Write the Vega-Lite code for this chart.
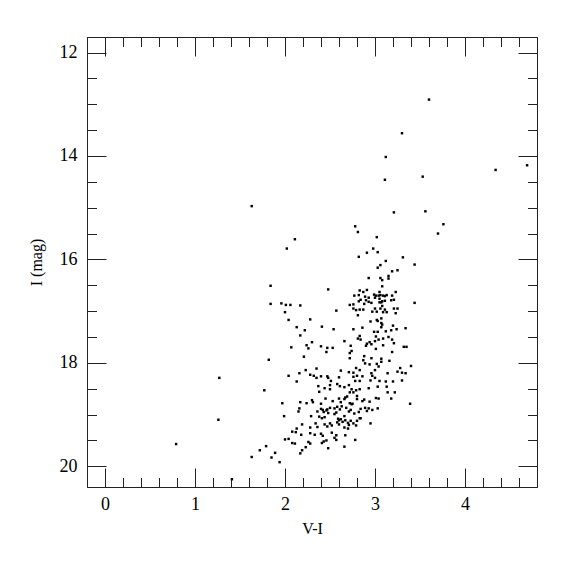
{
  "$schema": "https://vega.github.io/schema/vega-lite/v6.json",
  "autosize": {"type": "none"},
  "width": 450,
  "height": 450,
  "padding": {"left": 87, "top": 37, "right": 38, "bottom": 88},
  "background": "white",
  "config": {
    "view": {"stroke": "#222", "strokeWidth": 1},
    "axis": {
      "domainColor": "#222", "tickColor": "#222", "grid": false,
      "labelFont": "Liberation Serif", "labelFontSize": 18, "labelColor": "black",
      "titleFont": "Liberation Serif", "titleFontSize": 16, "titleFontWeight": "normal", "titleColor": "black",
      "labelFlush": false, "labelOverlap": false
    }
  },
  "datasets": {
    "stars": [
      {"vi":3.60,"I":12.91},{"vi":3.30,"I":13.56},{"vi":3.12,"I":14.02},{"vi":4.69,"I":14.18},{"vi":4.34,"I":14.27},
      {"vi":3.11,"I":14.46},{"vi":3.53,"I":14.40},{"vi":1.63,"I":14.97},{"vi":3.21,"I":15.09},{"vi":3.56,"I":15.07},
      {"vi":3.76,"I":15.32},{"vi":3.70,"I":15.50},{"vi":2.78,"I":15.36},{"vi":2.81,"I":15.47},{"vi":2.11,"I":15.61},
      {"vi":3.02,"I":15.57},{"vi":2.02,"I":15.79},{"vi":2.98,"I":15.79},{"vi":2.91,"I":15.87},{"vi":3.03,"I":15.86},
      {"vi":2.82,"I":15.95},{"vi":3.31,"I":15.96},{"vi":3.12,"I":16.03},{"vi":3.44,"I":16.10},{"vi":3.06,"I":16.11},
      {"vi":3.03,"I":16.16},{"vi":3.25,"I":16.21},{"vi":3.19,"I":16.23},{"vi":3.15,"I":16.32},{"vi":3.15,"I":16.37},
      {"vi":2.93,"I":16.36},{"vi":3.06,"I":16.36},{"vi":3.08,"I":16.40},{"vi":1.84,"I":16.51},{"vi":3.08,"I":16.52},
      {"vi":2.48,"I":16.58},{"vi":2.83,"I":16.60},{"vi":2.91,"I":16.59},{"vi":2.87,"I":16.63},{"vi":3.23,"I":16.63},
      {"vi":3.05,"I":16.63},{"vi":2.77,"I":16.70},{"vi":2.82,"I":16.69},{"vi":2.89,"I":16.72},{"vi":2.99,"I":16.68},
      {"vi":3.01,"I":16.70},{"vi":3.04,"I":16.70},{"vi":3.06,"I":16.69},{"vi":3.09,"I":16.70},{"vi":3.11,"I":16.71},
      {"vi":3.13,"I":16.69},{"vi":3.19,"I":16.70},{"vi":2.93,"I":16.74},{"vi":3.00,"I":16.74},{"vi":3.05,"I":16.76},
      {"vi":2.84,"I":16.78},{"vi":2.90,"I":16.79},{"vi":3.21,"I":16.78},{"vi":2.82,"I":16.81},{"vi":2.93,"I":16.82},
      {"vi":3.08,"I":16.81},{"vi":3.11,"I":16.80},{"vi":3.18,"I":16.79},{"vi":2.88,"I":16.86},{"vi":2.96,"I":16.84},
      {"vi":3.05,"I":16.83},{"vi":3.07,"I":16.83},{"vi":1.84,"I":16.86},{"vi":1.96,"I":16.85},{"vi":2.01,"I":16.88},
      {"vi":2.06,"I":16.88},{"vi":2.17,"I":16.89},{"vi":2.72,"I":16.88},{"vi":2.76,"I":16.87},{"vi":3.44,"I":16.84},
      {"vi":3.08,"I":16.90},{"vi":2.76,"I":16.95},{"vi":2.79,"I":16.98},{"vi":2.83,"I":16.97},{"vi":2.87,"I":16.97},
      {"vi":3.00,"I":16.95},{"vi":3.06,"I":16.95},{"vi":3.11,"I":16.97},{"vi":3.21,"I":16.95},{"vi":3.25,"I":16.95},
      {"vi":2.00,"I":17.02},{"vi":2.57,"I":16.99},{"vi":2.97,"I":17.01},{"vi":3.02,"I":17.01},{"vi":3.09,"I":17.02},
      {"vi":3.13,"I":17.02},{"vi":3.23,"I":17.04},
      {"vi":2.81,"I":17.08},{"vi":2.04,"I":17.17},{"vi":2.28,"I":17.16},{"vi":2.95,"I":17.20},{"vi":3.02,"I":17.17},
      {"vi":3.03,"I":17.19},{"vi":3.07,"I":17.14},{"vi":3.07,"I":17.23},{"vi":2.13,"I":17.31},{"vi":2.41,"I":17.30},
      {"vi":2.22,"I":17.37},{"vi":2.54,"I":17.35},{"vi":2.76,"I":17.35},{"vi":2.86,"I":17.32},{"vi":3.08,"I":17.26},
      {"vi":3.07,"I":17.31},{"vi":3.20,"I":17.28},{"vi":3.18,"I":17.37},{"vi":3.24,"I":17.35},{"vi":3.34,"I":17.33},
      {"vi":2.99,"I":17.40},{"vi":3.03,"I":17.40},{"vi":3.12,"I":17.39},{"vi":2.17,"I":17.47},{"vi":2.83,"I":17.48},
      {"vi":2.81,"I":17.53},{"vi":3.01,"I":17.49},{"vi":3.09,"I":17.53},{"vi":3.15,"I":17.50},{"vi":3.19,"I":17.55},
      {"vi":2.84,"I":17.55},{"vi":2.30,"I":17.60},{"vi":2.66,"I":17.58},{"vi":2.94,"I":17.60},{"vi":2.91,"I":17.63},
      {"vi":2.90,"I":17.67},{"vi":2.96,"I":17.64},{"vi":3.00,"I":17.58},{"vi":3.04,"I":17.55},{"vi":3.21,"I":17.62},
      {"vi":2.24,"I":17.66},{"vi":2.26,"I":17.72},{"vi":2.07,"I":17.70},{"vi":2.40,"I":17.68},{"vi":2.47,"I":17.71},
      {"vi":2.53,"I":17.71},{"vi":2.73,"I":17.67},{"vi":3.09,"I":17.66},{"vi":3.32,"I":17.69},{"vi":3.35,"I":17.69},
      {"vi":2.46,"I":17.79},{"vi":2.74,"I":17.77},{"vi":2.72,"I":17.81},{"vi":3.01,"I":17.73},{"vi":3.19,"I":17.79},
      {"vi":2.21,"I":17.88},{"vi":2.72,"I":17.91},{"vi":2.88,"I":17.87},{"vi":2.87,"I":17.95},{"vi":1.82,"I":17.94},
      {"vi":2.96,"I":17.91},{"vi":3.07,"I":17.92},{"vi":3.07,"I":17.98},{"vi":2.89,"I":18.01},{"vi":2.94,"I":18.03},
      {"vi":3.02,"I":18.02},{"vi":3.16,"I":17.96},{"vi":3.04,"I":18.07},{"vi":2.79,"I":18.10},{"vi":3.28,"I":18.10},
      {"vi":3.40,"I":18.06},{"vi":2.23,"I":18.14},{"vi":2.35,"I":18.11},{"vi":2.62,"I":18.15},{"vi":2.71,"I":18.18},
      {"vi":2.76,"I":18.19},{"vi":2.83,"I":18.14},{"vi":3.00,"I":18.14},{"vi":2.16,"I":18.20},{"vi":2.28,"I":18.23},
      {"vi":2.96,"I":18.20},{"vi":3.14,"I":18.20},{"vi":3.25,"I":18.17},{"vi":3.30,"I":18.19},{"vi":2.04,"I":18.25},
      {"vi":2.32,"I":18.25},{"vi":2.35,"I":18.29},{"vi":2.40,"I":18.26},{"vi":2.47,"I":18.26},{"vi":2.48,"I":18.29},
      {"vi":2.60,"I":18.28},{"vi":2.76,"I":18.27},{"vi":2.80,"I":18.25},{"vi":2.86,"I":18.26},{"vi":2.97,"I":18.25},
      {"vi":3.00,"I":18.29},{"vi":3.34,"I":18.20},{"vi":2.13,"I":18.36},{"vi":2.51,"I":18.35},{"vi":2.78,"I":18.35},
      {"vi":2.83,"I":18.35},{"vi":2.95,"I":18.34},{"vi":3.05,"I":18.35},{"vi":3.12,"I":18.36},{"vi":3.20,"I":18.36},
      {"vi":3.30,"I":18.34},{"vi":2.50,"I":18.43},{"vi":2.58,"I":18.41},{"vi":2.61,"I":18.45},{"vi":2.71,"I":18.43},
      {"vi":2.37,"I":18.45},{"vi":2.44,"I":18.49},{"vi":2.50,"I":18.51},{"vi":2.66,"I":18.47},{"vi":2.74,"I":18.51},
      {"vi":2.79,"I":18.53},{"vi":2.83,"I":18.51},{"vi":2.93,"I":18.49},{"vi":3.03,"I":18.46},{"vi":3.13,"I":18.46},
      {"vi":2.38,"I":18.56},{"vi":1.77,"I":18.53},{"vi":3.14,"I":18.57},{"vi":3.22,"I":18.57},{"vi":2.72,"I":18.57},
      {"vi":2.76,"I":18.57},{"vi":1.27,"I":18.29},
      {"vi":1.97,"I":18.78},{"vi":2.17,"I":18.76},{"vi":2.24,"I":18.78},{"vi":2.30,"I":18.72},{"vi":2.31,"I":18.76},
      {"vi":2.40,"I":18.79},{"vi":2.45,"I":18.69},{"vi":2.53,"I":18.74},{"vi":2.60,"I":18.69},{"vi":2.62,"I":18.76},
      {"vi":2.66,"I":18.70},{"vi":2.69,"I":18.65},{"vi":2.67,"I":18.67},{"vi":2.72,"I":18.78},{"vi":2.75,"I":18.79},
      {"vi":2.80,"I":18.70},{"vi":2.80,"I":18.64},{"vi":2.86,"I":18.74},{"vi":2.88,"I":18.71},{"vi":2.94,"I":18.75},
      {"vi":3.01,"I":18.68},{"vi":3.04,"I":18.69},{"vi":3.18,"I":18.69},{"vi":3.39,"I":18.79},{"vi":1.99,"I":19.03},
      {"vi":2.16,"I":18.88},{"vi":2.15,"I":18.94},{"vi":2.29,"I":19.03},{"vi":2.36,"I":18.94},{"vi":2.40,"I":18.89},
      {"vi":2.42,"I":18.91},{"vi":2.43,"I":18.95},{"vi":2.46,"I":18.92},{"vi":2.48,"I":18.97},{"vi":2.47,"I":18.90},
      {"vi":2.38,"I":19.04},{"vi":2.41,"I":19.07},{"vi":2.44,"I":19.05},{"vi":2.50,"I":18.87},{"vi":2.55,"I":18.88},
      {"vi":2.58,"I":18.85},{"vi":2.61,"I":18.90},{"vi":2.63,"I":18.84},{"vi":2.55,"I":18.99},{"vi":2.57,"I":18.96},
      {"vi":2.68,"I":18.87},{"vi":2.71,"I":18.94},{"vi":2.73,"I":18.91},{"vi":2.74,"I":18.80},{"vi":2.77,"I":18.98},
      {"vi":2.82,"I":18.95},{"vi":2.84,"I":18.89},{"vi":2.89,"I":18.87},{"vi":2.91,"I":18.93},{"vi":2.93,"I":18.88},
      {"vi":2.97,"I":18.91},{"vi":3.03,"I":18.88},{"vi":2.84,"I":19.07},{"vi":2.66,"I":19.03},{"vi":2.34,"I":19.17},
      {"vi":2.28,"I":19.25},{"vi":2.36,"I":19.24},{"vi":2.44,"I":19.19},{"vi":2.47,"I":19.23},{"vi":2.50,"I":19.17},
      {"vi":2.52,"I":19.21},{"vi":2.59,"I":19.08},{"vi":2.60,"I":19.11},{"vi":2.62,"I":19.09},{"vi":2.64,"I":19.14},
      {"vi":2.58,"I":19.15},{"vi":2.60,"I":19.19},{"vi":2.67,"I":19.11},{"vi":2.70,"I":19.16},{"vi":2.71,"I":19.20},
      {"vi":2.73,"I":19.12},{"vi":2.76,"I":19.17},{"vi":2.79,"I":19.21},{"vi":2.66,"I":19.25},{"vi":2.70,"I":19.27},
      {"vi":2.80,"I":19.12},{"vi":2.83,"I":19.07},{"vi":2.95,"I":19.17},{"vi":2.19,"I":19.19},{"vi":2.13,"I":19.27},
      {"vi":2.08,"I":19.33},{"vi":2.12,"I":19.34},{"vi":2.18,"I":19.39},{"vi":2.28,"I":19.36},{"vi":2.33,"I":19.39},
      {"vi":2.40,"I":19.37},{"vi":2.42,"I":19.41},{"vi":2.52,"I":19.35},{"vi":2.55,"I":19.45},{"vi":2.57,"I":19.40},
      {"vi":2.57,"I":19.49},{"vi":2.67,"I":19.40},{"vi":2.78,"I":19.49},{"vi":2.00,"I":19.48},{"vi":2.04,"I":19.47},
      {"vi":2.08,"I":19.55},{"vi":2.11,"I":19.56},{"vi":2.26,"I":19.53},{"vi":2.28,"I":19.56},{"vi":2.41,"I":19.55},
      {"vi":2.43,"I":19.52},{"vi":2.46,"I":19.50},{"vi":2.23,"I":19.63},{"vi":2.19,"I":19.69},{"vi":2.17,"I":19.75},
      {"vi":2.48,"I":19.65},{"vi":2.66,"I":19.62},{"vi":1.79,"I":19.61},{"vi":1.72,"I":19.69},{"vi":1.89,"I":19.74},
      {"vi":1.63,"I":19.82},{"vi":1.85,"I":19.83},{"vi":1.94,"I":19.92},{"vi":1.26,"I":19.10},{"vi":0.79,"I":19.57},
      {"vi":1.41,"I":20.25}
    ]
  },
  "data": {"name": "stars"},
  "resolve": {"axis": {"x": "independent", "y": "independent"}},
  "layer": [
    {
      "mark": {"type": "point", "shape": "square", "filled": true, "size": 6, "color": "black", "opacity": 1, "strokeWidth": 0},
      "encoding": {
        "x": {"field": "vi", "type": "quantitative",
          "scale": {"domain": [-0.2, 4.8], "nice": false, "zero": false},
          "axis": {"orient": "bottom", "title": "V-I",
            "values": [0,0.2,0.4,0.6,0.8,1,1.2,1.4,1.6,1.8,2,2.2,2.4,2.6,2.8,3,3.2,3.4,3.6,3.8,4,4.2,4.4,4.6],
            "labelExpr": "abs(datum.value - round(datum.value)) < 0.001 ? format(datum.value, 'd') : ''",
            "tickSize": {"condition": {"test": "abs(datum.value - round(datum.value)) < 0.001", "value": -19}, "value": -9.5},
            "labelPadding": 27, "titlePadding": -2}},
        "y": {"field": "I", "type": "quantitative",
          "scale": {"domain": [11.7, 20.4], "nice": false, "zero": false, "reverse": true},
          "axis": {"orient": "left", "title": "I (mag)",
            "values": [12,12.5,13,13.5,14,14.5,15,15.5,16,16.5,17,17.5,18,18.5,19,19.5,20],
            "labelExpr": "datum.value % 2 === 0 ? format(datum.value, 'd') : ''",
            "tickSize": {"condition": {"test": "datum.value % 2 === 0", "value": -19}, "value": -9.5},
            "labelPadding": 29, "titlePadding": 15}}
      }
    },
    {
      "mark": {"type": "point", "opacity": 0},
      "encoding": {
        "x": {"field": "vi", "type": "quantitative",
          "axis": {"orient": "top", "title": null, "labels": false,
            "values": [0,0.2,0.4,0.6,0.8,1,1.2,1.4,1.6,1.8,2,2.2,2.4,2.6,2.8,3,3.2,3.4,3.6,3.8,4,4.2,4.4,4.6],
            "tickSize": {"condition": {"test": "abs(datum.value - round(datum.value)) < 0.001", "value": -19}, "value": -9.5}}},
        "y": {"field": "I", "type": "quantitative",
          "axis": {"orient": "right", "title": null, "labels": false,
            "values": [12,12.5,13,13.5,14,14.5,15,15.5,16,16.5,17,17.5,18,18.5,19,19.5,20],
            "tickSize": {"condition": {"test": "datum.value % 2 === 0", "value": -19}, "value": -9.5}}}
      }
    }
  ]
}
